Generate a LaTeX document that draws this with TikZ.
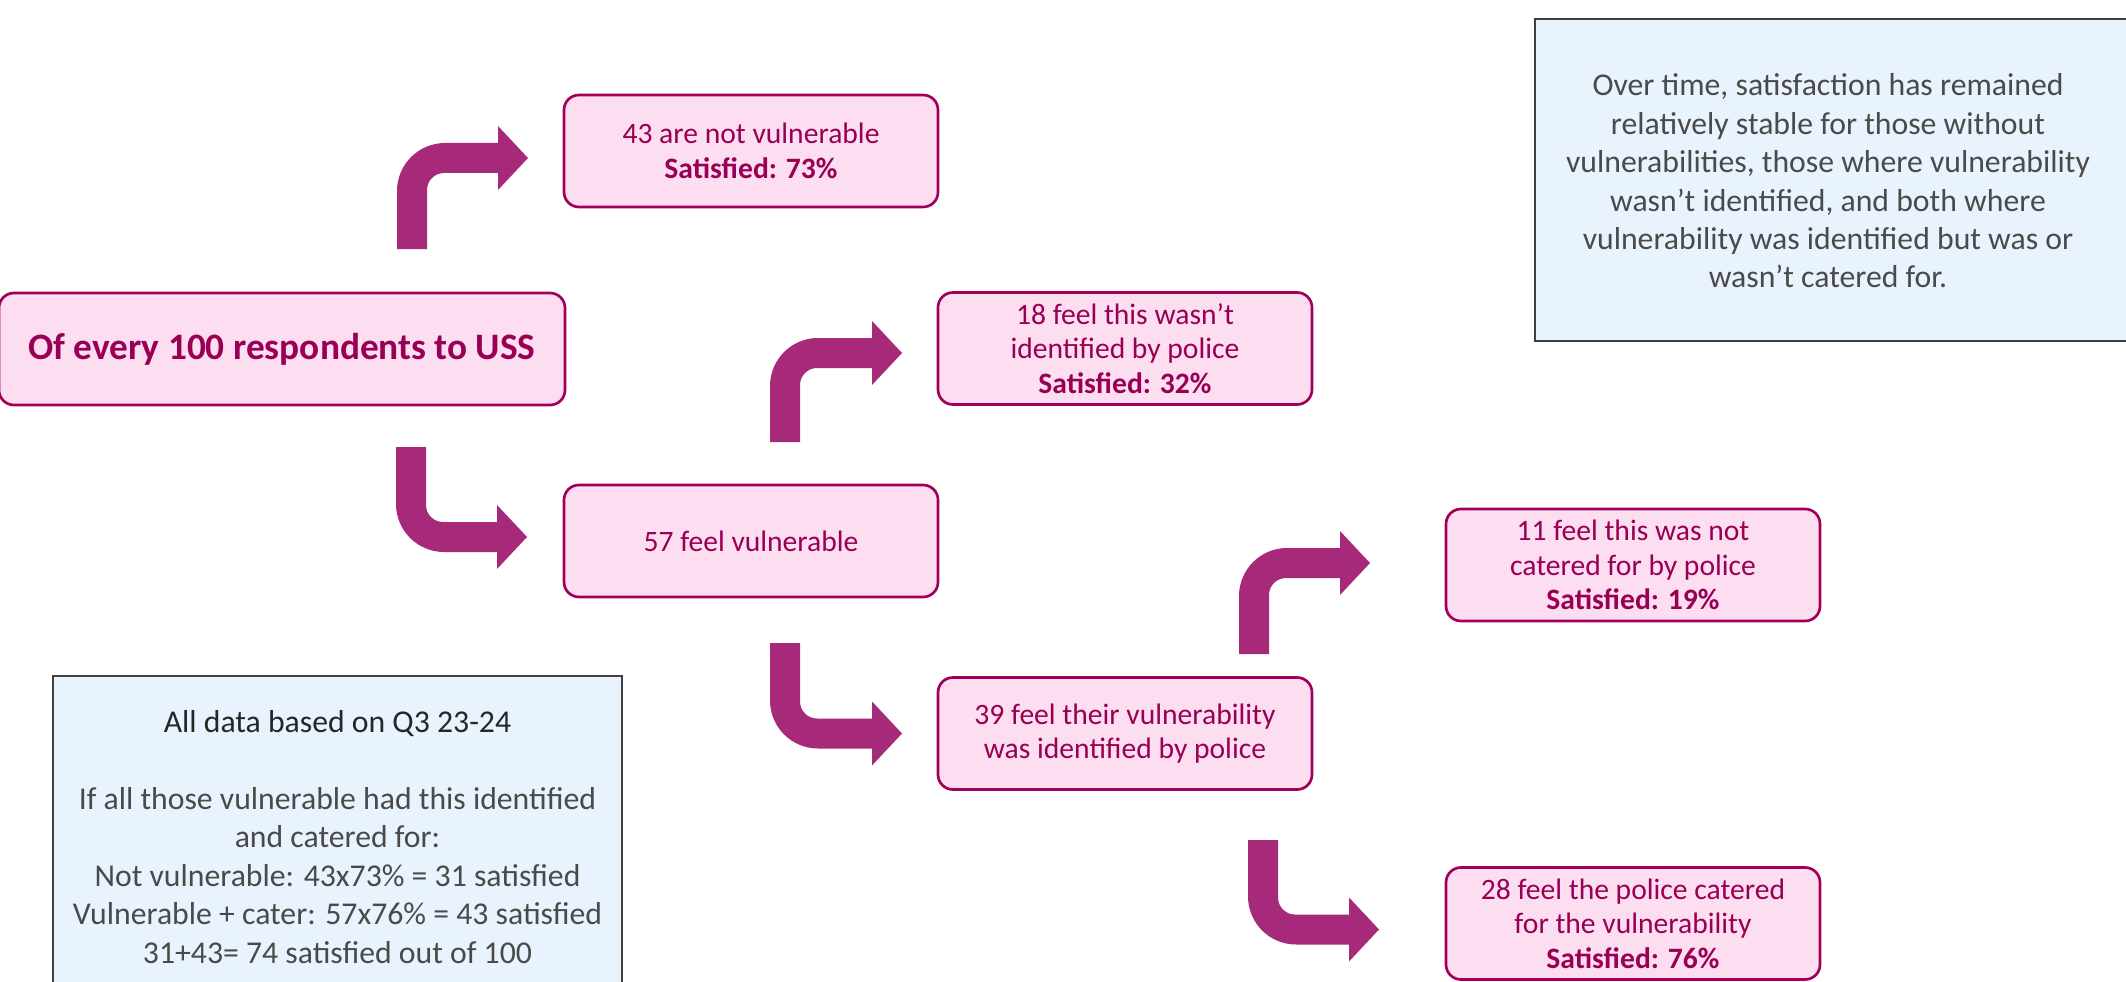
\documentclass[tikz,border=0pt]{standalone}
\usepackage{fontspec}
\setmainfont{Carlito}
\definecolor{arrowc}{HTML}{A6297A}
\definecolor{boxfill}{HTML}{FDDDF0}
\definecolor{boxline}{HTML}{A0005A}
\definecolor{boxtext}{HTML}{990055}
\definecolor{notefill}{HTML}{E9F3FD}
\definecolor{noteline}{HTML}{404040}
\definecolor{notetextc}{HTML}{4A4A4A}
\definecolor{notehead}{HTML}{262626}
\tikzset{
  pinkbox/.style={draw=boxline, line width=1pt, fill=boxfill, rounded corners=5.6pt,
    text=boxtext, align=center, minimum width=140.25pt, minimum height=42pt, inner sep=0pt,
    font=\fontsize{11.1}{12.9}\selectfont},
  startbox/.style={pinkbox, minimum width=212.25pt, font=\fontsize{14}{16}\selectfont\bfseries},
  notebox/.style={draw=noteline, line width=0.6pt, fill=notefill},
  notetext/.style={text=notetextc, align=center, inner sep=0pt,
    font=\fontsize{11.9}{14.4}\selectfont}
}
\newcommand\upbend[4]{%
  \fill[arrowc] (#1,#2) -- (#1,#3+33) .. controls (#1,#3+6.5) and (#1+21.5,#3-15) .. (#1+48,#3-15)
    -- (#4-30,#3-15) -- (#4-30,#3-32) -- (#4,#3) -- (#4-30,#3+32) -- (#4-30,#3+15)
    -- (#1+47,#3+15) .. controls (#1+37.6,#3+15) and (#1+30,#3+22.6) .. (#1+30,#3+32)
    -- (#1+30,#2) -- cycle;}
\newcommand\downbend[4]{%
  \fill[arrowc] (#1,#2) -- (#1,#3-33) .. controls (#1,#3-6.5) and (#1+21.5,#3+15) .. (#1+48,#3+15)
    -- (#4-30,#3+15) -- (#4-30,#3+32) -- (#4,#3) -- (#4-30,#3-32) -- (#4-30,#3-15)
    -- (#1+47,#3-15) .. controls (#1+37.6,#3-15) and (#1+30,#3-22.6) .. (#1+30,#3-32)
    -- (#1+30,#2) -- cycle;}
\begin{document}
\begin{tikzpicture}[x=0.375pt, y=-0.375pt]
\useasboundingbox (0,0) rectangle (2126,981);
\clip (0,0) rectangle (2126,981);
\fill[white] (0,0) rectangle (2126,981);

% notes
\path[notebox] (1535,19) rectangle (2160,341);
\node[notetext] (noteTR) at (1828,181) {Over time, satisfaction has remained\\relatively stable for those without\\vulnerabilities, those where vulnerability\\wasn’t identified, and both where\\vulnerability was identified but was or\\wasn’t catered for.};
\path[notebox] (53,676) rectangle (622,1010);
\node[notetext] (noteBL) at (337.5,837) {{\color{notehead}All data based on Q3 23-24}\\[14.4pt]If all those vulnerable had this identified\\and catered for:\\Not vulnerable: 43x73\% = 31 satisfied\\Vulnerable + cater: 57x76\% = 43 satisfied\\31+43= 74 satisfied out of 100};

% boxes
\node[startbox] (start) at (282,349) {Of every 100 respondents to USS};
\node[pinkbox] (notvul) at (751,151) {43 are not vulnerable\\\textbf{Satisfied: 73\%}};
\node[pinkbox] (vul) at (751,541) {57 feel vulnerable};
\node[pinkbox] (notid) at (1125,348.5) {18 feel this wasn’t\\identified by police\\\textbf{Satisfied: 32\%}};
\node[pinkbox] (id) at (1125,733.5) {39 feel their vulnerability\\was identified by police};
\node[pinkbox] (notcat) at (1633,565) {11 feel this was not\\catered for by police\\\textbf{Satisfied: 19\%}};
\node[pinkbox] (cat) at (1633,923.5) {28 feel the police catered\\for the vulnerability\\\textbf{Satisfied: 76\%}};

% bent arrows
\upbend{397}{249}{158}{528}
\downbend{396}{447}{537}{527}
\upbend{770}{442}{353}{902}
\downbend{770}{643}{733.5}{902}
\upbend{1239}{654}{563}{1370}
\downbend{1248}{840}{929.5}{1379}
\end{tikzpicture}
\end{document}
